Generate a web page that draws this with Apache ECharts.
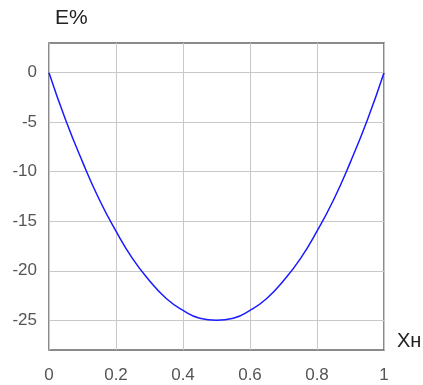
<!DOCTYPE html>
<html>
<head>
<meta charset="utf-8">
<script src="https://cdn.jsdelivr.net/npm/echarts@6/dist/echarts.min.js"></script>
<style>
  html, body { margin: 0; padding: 0; background: #fff; }
  #chart { width: 423px; height: 385px; }
</style>
</head>
<body>
<div id="chart"></div>
<script>
// values
var xValues = [0, 0.05, 0.1, 0.15, 0.2, 0.25, 0.3, 0.35, 0.4, 0.45, 0.5,
  0.55, 0.6, 0.65, 0.7, 0.75, 0.8, 0.85, 0.9, 0.95, 1];
var eValues = [0, -4.8, -9, -12.8, -16, -18.8, -21, -22.8, -24, -24.8, -25,
  -24.8, -24, -22.8, -21, -18.8, -16, -12.8, -9, -4.8, 0];
var yTicks = [0, -5, -10, -15, -20, -25];
var xTicks = [0, 0.2, 0.4, 0.6, 0.8, 1];

var points = xValues.map(function(x, i) { return [x, eValues[i]]; });

var labelFont = { color: '#555', fontSize: 17, fontFamily: 'Liberation Sans, Arial, sans-serif' };

var chart = echarts.init(document.getElementById('chart'));
chart.setOption({
  animation: false,
  grid: {
    left: 49, right: 39, top: 43, bottom: 35,
    show: true, borderColor: '#666', borderWidth: 1.5
  },
  xAxis: {
    type: 'value', min: 0, max: 1,
    axisLine: { show: false },
    axisTick: { show: false, customValues: xTicks },
    axisLabel: mergeStyle(labelFont, { margin: 17, customValues: xTicks,
      formatter: function(v) { return String(v); } }),
    splitLine: { show: true, lineStyle: { color: '#c8c8c8', width: 1 } }
  },
  yAxis: {
    type: 'value', min: -28, max: 3,
    axisLine: { show: false },
    axisTick: { show: false, customValues: yTicks },
    axisLabel: mergeStyle(labelFont, { margin: 12, customValues: yTicks }),
    splitLine: { show: true, lineStyle: { color: '#c8c8c8', width: 1 } }
  },
  graphic: [
    { type: 'text', left: 55, top: 8,
      style: { text: 'E%', fill: '#222', font: '21px Liberation Sans, Arial, sans-serif' } },
    { type: 'text', left: 397, top: 331,
      style: { text: 'Xн', fill: '#222', font: '20px Liberation Sans, Arial, sans-serif' } }
  ],
  series: [{
    type: 'line',
    data: points,
    smooth: true,
    symbol: 'none',
    lineStyle: { color: '#1a1aff', width: 1.5 }
  }]
});

function mergeStyle(base, extra) {
  var o = {};
  for (var k in base) o[k] = base[k];
  for (var j in extra) o[j] = extra[j];
  return o;
}
</script>
</body>
</html>
